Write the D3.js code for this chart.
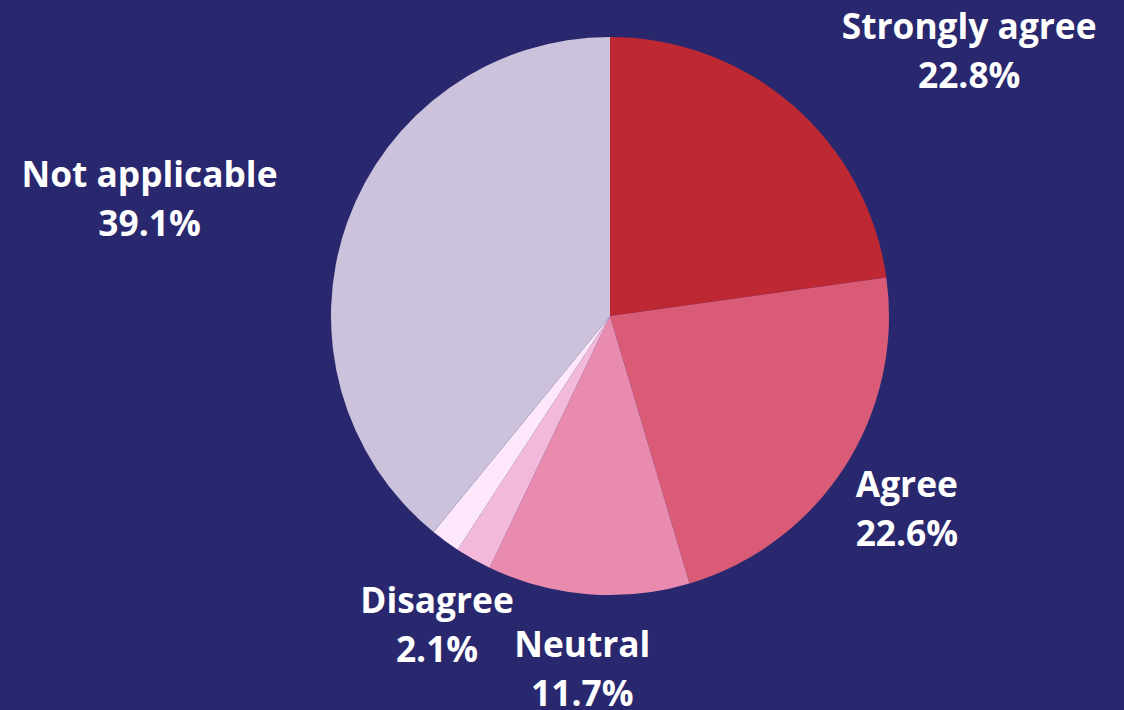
<!DOCTYPE html>
<html><head><meta charset="utf-8">
<script src="https://cdn.jsdelivr.net/npm/d3@7"></script>
<style>
html,body{margin:0;padding:0;background:#29286E;}
svg{display:block;}
</style></head>
<body><svg id="chart" width="1124" height="710"></svg>
<script>
const categories = ["Strongly agree","Agree","Neutral","Disagree","Strongly disagree","Not applicable"];
const values = [22.8, 22.6, 11.7, 2.1, 1.7, 39.1];
const showLabel = [true, true, true, true, false, true];
const colors = ["#BE2833","#D95B76","#E88BAF","#F2B9DB","#FDE8FB","#CCC2DB"];

const W = 1124, H = 710;
const cx = 610, cy = 316, R = 279, labelR = 353;
const svg = d3.select("#chart");
svg.append("rect").attr("width",W).attr("height",H).attr("fill","#29286E");
const g = svg.append("g").attr("transform",`translate(${cx},${cy})`);

const data = categories.map((c,i)=>({name:c,value:values[i],color:colors[i],show:showLabel[i]}));
const pie = d3.pie().value(d=>d.value).sort(null);
const arcs = pie(data);
const arc = d3.arc().innerRadius(0).outerRadius(R);
const labelArc = d3.arc().innerRadius(labelR).outerRadius(labelR);

g.selectAll("path").data(arcs).join("path")
  .attr("d",arc).attr("fill",d=>d.data.color);

const fmt = v => v.toFixed(1) + "%";
const fontSize = 35.3, lineH = 49;
const labels = g.selectAll("g.lbl").data(arcs.filter(d=>d.data.show)).join("g").attr("class","lbl");
labels.each(function(d){
  const [x,y] = labelArc.centroid(d);
  const sel = d3.select(this);
  const t1 = sel.append("text").text(d.data.name);
  const t2 = sel.append("text").text(fmt(d.data.value));
  [t1,t2].forEach(t=>t.attr("font-family","'Open Sans', sans-serif").attr("font-weight",700)
    .attr("font-size",fontSize).attr("fill","#FFFFFF").attr("text-anchor","middle")
    .attr("dominant-baseline","central"));
  const w = Math.max(t1.node().getComputedTextLength(), t2.node().getComputedTextLength());
  let bx = x;
  if (y < 0) bx = x >= 0 ? x + w/2 : x - w/2;
  t1.attr("x",bx).attr("y",y - lineH/2);
  t2.attr("x",bx).attr("y",y + lineH/2);
});
</script></body></html>
